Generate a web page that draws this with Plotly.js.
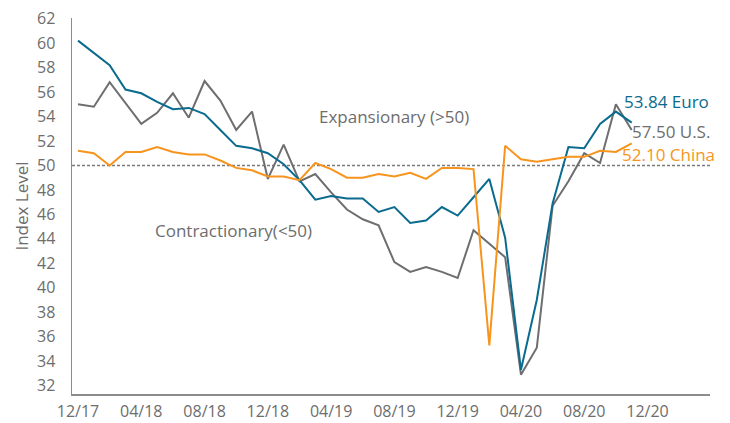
<!DOCTYPE html>
<html>
<head>
<meta charset="utf-8">
<script src="https://cdn.plot.ly/plotly-3.0.1.min.js"></script>
<style>
  html, body { margin: 0; padding: 0; background: #ffffff; }
  #chart { width: 730px; height: 423px; }
</style>
</head>
<body>
<div id="chart"></div>
<script>
// Monthly index, 0 = 12/17 ... 35 = 11/20
var months = [];
for (var m = 0; m < 36; m++) { months.push(m); }

var tickPositions = [0, 4, 8, 12, 16, 20, 24, 28, 32, 36];
var tickLabels = ["12/17", "04/18", "08/18", "12/18", "04/19", "08/19", "12/19", "04/20", "08/20", "12/20"];

var euroValues = [60.2, 59.2, 58.2, 56.2, 55.9, 55.2, 54.6, 54.7, 54.2, 52.9, 51.6, 51.4,
                  51.0, 50.1, 48.8, 47.2, 47.5, 47.3, 47.3, 46.2, 46.6, 45.3, 45.5, 46.6,
                  45.9, 47.4, 48.9, 44.1, 33.3, 39.0, 46.9, 51.5, 51.4, 53.4, 54.4, 53.5];

var usValues = [55.0, 54.8, 56.8, 55.1, 53.4, 54.3, 55.9, 53.9, 56.9, 55.3, 52.9, 54.4,
                48.9, 51.7, 48.7, 49.3, 47.8, 46.4, 45.6, 45.1, 42.1, 41.3, 41.7, 41.3,
                40.8, 44.7, 43.6, 42.5, 32.9, 35.1, 46.7, 48.7, 51.0, 50.2, 55.0, 52.9];

var chinaValues = [51.2, 51.0, 50.0, 51.1, 51.1, 51.5, 51.1, 50.9, 50.9, 50.4, 49.8, 49.6,
                   49.1, 49.1, 48.8, 50.2, 49.7, 49.0, 49.0, 49.3, 49.1, 49.4, 48.9, 49.8,
                   49.8, 49.7, 35.3, 51.6, 50.5, 50.3, 50.5, 50.7, 50.7, 51.2, 51.1, 51.8];

var seriesNames = ["Euro", "U.S.", "China"];
var endLabels = ["53.84 Euro", "57.50 U.S.", "52.10 China"];
var threshold = 50;

var BLUE = "#0b6b8e", GRAY = "#6d6e70", ORANGE = "#f7941d", TEXT = "#6d6d6d";
var FONT = "Open Sans, sans-serif";

var traces = [
  { x: months, y: usValues, name: seriesNames[1], type: "scatter", mode: "lines",
    line: { color: GRAY, width: 2 } },
  { x: months, y: euroValues, name: seriesNames[0], type: "scatter", mode: "lines",
    line: { color: BLUE, width: 2 } },
  { x: months, y: chinaValues, name: seriesNames[2], type: "scatter", mode: "lines",
    line: { color: ORANGE, width: 2 } }
];

var layout = {
  width: 730, height: 423,
  margin: { l: 72, r: 20, t: 18, b: 29 },
  paper_bgcolor: "#ffffff", plot_bgcolor: "#ffffff",
  showlegend: false,
  font: { family: FONT, size: 16, color: TEXT },
  xaxis: {
    range: [-0.38, 39.95],
    tickmode: "array", tickvals: tickPositions, ticktext: tickLabels,
    showgrid: false, zeroline: false, ticks: "",
    showline: true, linecolor: "#8c8c8c", linewidth: 1.5,
    ticklabelstandoff: 2,
    tickfont: { family: FONT, size: 16, color: TEXT }
  },
  yaxis: {
    range: [31.32, 62.05],
    tickmode: "linear", tick0: 32, dtick: 2,
    showgrid: false, zeroline: false, ticks: "",
    showline: true, linecolor: "#8c8c8c", linewidth: 1.5,
    ticklabelstandoff: 12,
    tickfont: { family: FONT, size: 16, color: TEXT },
    title: { text: "Index Level", font: { family: FONT, size: 17, color: TEXT }, standoff: 4 }
  },
  shapes: [
    { type: "line", xref: "paper", x0: 0, x1: 1, yref: "y", y0: threshold, y1: threshold,
      line: { color: "#7a7a7a", width: 1.5, dash: "3px,2px" }, layer: "below" }
  ],
  annotations: [
    { text: "Expansionary (>50)", xref: "x", yref: "y", x: 20.0, y: 53.97,
      showarrow: false, xanchor: "center", yanchor: "middle",
      font: { family: FONT, size: 17, color: TEXT } },
    { text: "Contractionary(<50)", xref: "x", yref: "y", x: 9.83, y: 44.65,
      showarrow: false, xanchor: "center", yanchor: "middle",
      font: { family: FONT, size: 17, color: TEXT } },
    { text: endLabels[0], xref: "paper", yref: "y", x: (622 - 72) / 638, y: 55.22,
      showarrow: false, xanchor: "left", yanchor: "middle",
      font: { family: FONT, size: 17, color: BLUE } },
    { text: endLabels[1], xref: "paper", yref: "y", x: (630 - 72) / 638, y: 52.77,
      showarrow: false, xanchor: "left", yanchor: "middle",
      font: { family: FONT, size: 17, color: GRAY } },
    { text: endLabels[2], xref: "paper", yref: "y", x: (620 - 72) / 638, y: 50.87,
      showarrow: false, xanchor: "left", yanchor: "middle",
      font: { family: FONT, size: 17, color: ORANGE } }
  ]
};

Plotly.newPlot("chart", traces, layout, { displayModeBar: false, staticPlot: true });
</script>
</body>
</html>
